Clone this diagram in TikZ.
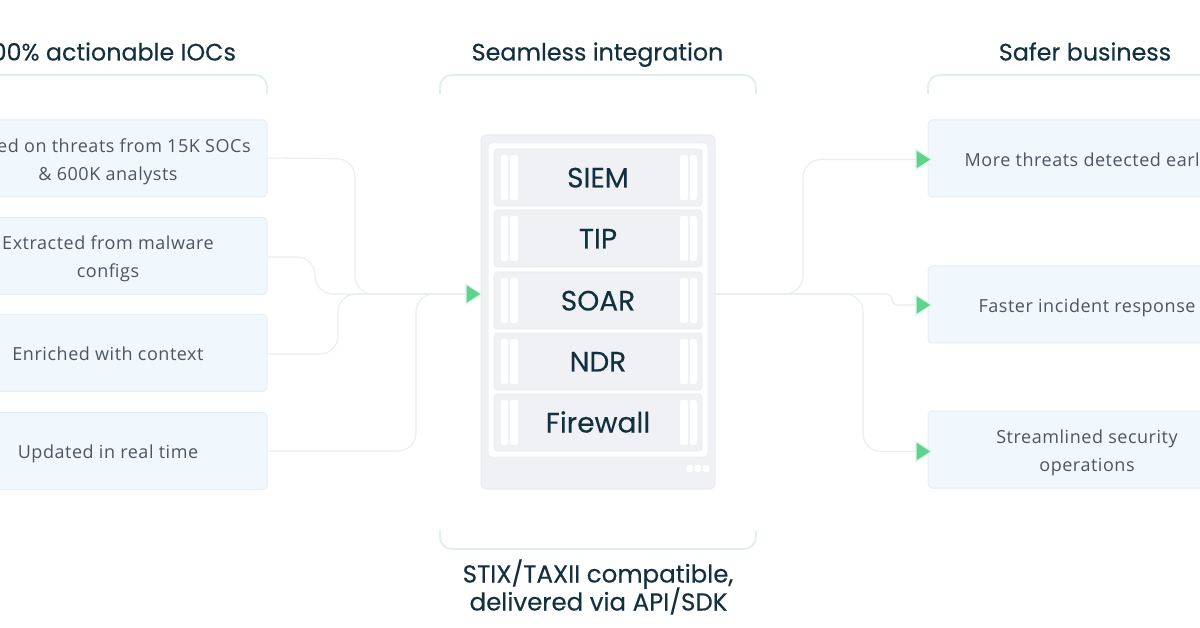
\documentclass[tikz,border=0pt]{standalone}
\usepackage{fontspec}
\setmainfont{Open Sans}[LetterSpace=3]
\newfontfamily\headfont{Poppins}[FakeBold=0.25]
\usetikzlibrary{calc}
\definecolor{inktext}{HTML}{12303F}
\definecolor{bodytext}{HTML}{4A5661}
\definecolor{boxfill}{HTML}{F0F7FD}
\definecolor{boxline}{HTML}{E4EFF6}
\definecolor{wire}{HTML}{E8EEF0}
\definecolor{bracketc}{HTML}{E2EDEE}
\definecolor{tipc}{HTML}{5FD38D}
\definecolor{tiphalo}{HTML}{DDF6E7}
\definecolor{rack}{HTML}{F0F1F4}
\definecolor{rackline}{HTML}{E9EAED}
\tikzset{
  x=1pt,y=-1pt,
  cardbox/.style={draw=boxline,line width=1pt,fill=boxfill,rounded corners=4pt,minimum width=318pt,minimum height=77pt,inner sep=0pt,align=center,text=bodytext,font=\fontsize{18}{28}\selectfont},
  conn/.style={draw=wire,line width=1.1pt,rounded corners=18pt},
  bracket/.style={draw=bracketc,line width=1.8pt,rounded corners=12pt},
  headline/.style={text=inktext,font=\headfont\fontsize{23.8}{28}\selectfont,inner sep=0pt},
  rowbox/.style={fill=rack,draw=rackline,line width=.6pt,rounded corners=3pt,minimum width=208pt,minimum height=57pt,inner sep=0pt,text=inktext,text height=20pt,text depth=0pt,font=\headfont\fontsize{28}{30}\selectfont},
  slot/.style={fill=white,rounded corners=2pt},
  tipfill/.style={fill=tipc,draw=tiphalo,line width=1.2pt},
}
\newcommand{\greentip}[1]{\filldraw[tipfill] (#1) ++(0,-10) -- ++(15.5,10) -- ++(-15.5,10) -- cycle;}
\newcommand{\rackslots}[1]{%
  \foreach \sx/\sw in {501/7,510/8,680/8,690/7}{\fill[slot] (\sx,#1+6) rectangle ++(\sw,45);}}
\newcommand{\cardtext}[1]{\raisebox{-6.5pt}[0pt][0pt]{\begin{tabular}{@{}c@{}}#1\end{tabular}}}
\begin{document}
\begin{tikzpicture}
\clip (0,0) rectangle (1200,628);
\useasboundingbox (0,0) rectangle (1200,628);
\fill[white] (0,0) rectangle (1200,628);

% headings
\node[headline,anchor=base] (h1) at (110,60.5) {100\% actionable IOCs};
\node[headline,anchor=base] (h2) at (597.5,60.5) {Seamless integration};
\node[headline,anchor=base] (h3) at (1085,60.5) {Safer business};
\draw[bracket] (-60,75) -- (267,75) -- (267,94);
\draw[bracket] (440,94) -- (440,75) -- (756,75) -- (756,94);
\draw[bracket] (928,94) -- (928,75) -- (1260,75);
\draw[bracket] (440,531) -- (440,549) -- (756,549) -- (756,531);
\node[headline,anchor=base,font=\headfont\fontsize{24.5}{28}\selectfont] (h4) at (598,582.5) {STIX/TAXII compatible,};
\node[headline,anchor=base,font=\headfont\fontsize{24.5}{28}\selectfont] (h5) at (598.5,610.5) {delivered via API/SDK};

% cards
\node[cardbox] (a1) at (108,158.5) {\cardtext{Based on threats from 15K SOCs\\\& 600K analysts}};
\node[cardbox] (a2) at (108,256) {\cardtext{Extracted from malware\\configs}};
\node[cardbox] (a3) at (108,353) {\cardtext{Enriched with context}};
\node[cardbox] (a4) at (108,451) {\cardtext{Updated in real time}};
\node[cardbox] (b1) at (1087,158.5) {\cardtext{More threats detected early}};
\node[cardbox] (b2) at (1087,304.5) {\cardtext{Faster incident response}};
\node[cardbox] (b3) at (1087,449.5) {\cardtext{Streamlined security\\operations}};

% server
\node[fill=rack,draw=rackline,line width=1pt,rounded corners=5pt,minimum width=234pt,minimum height=354pt,inner sep=0pt] (srv) at (598,312) {};
\node[fill=white,rounded corners=4pt,minimum width=219pt,minimum height=313pt,inner sep=0pt] (inner) at (598,300) {};
\node[rowbox] (r1) at (598,177.5) {SIEM};
\node[rowbox] (r2) at (598,238.5) {TIP};
\node[rowbox] (r3) at (598,300.5) {SOAR};
\node[rowbox] (r4) at (598,361.5) {NDR};
\node[rowbox] (r5) at (598,422.5) {Firewall};
\rackslots{149}\rackslots{210}\rackslots{272}\rackslots{333}\rackslots{394}
\foreach \dx in {686.5,694.5,703}{\fill[white,rounded corners=1.5pt] (\dx,465) rectangle ++(6.5,7);}

% connectors
\coordinate (inT) at (466,294);
\coordinate (outS) at (715,294);
\coordinate (t1) at (916,159.5);
\coordinate (t2) at (916,305);
\coordinate (t3) at (916,451.5);
\draw[conn] ([yshift=.5pt]a1.east) -- (355,159) -- (355,294) -- (inT);
\draw[conn] (a2.east) ++(0,1) -- (315,257) -- (315,294) -- (inT);
\draw[conn] (a3.east) ++(0,1) -- (338,354) -- (338,294) -- (inT);
\draw[conn] (a4.east) -- (416,451) -- (416,294) -- (inT);
\draw[conn] (outS) -- (803,294) -- (803,159.5) -- (t1);
\draw[conn,rounded corners=5pt] (outS) -- (892,294) -- (892,305) -- (t2);
\draw[conn] (outS) -- (863,294) -- (863,451.5) -- (t3);
\greentip{inT}\greentip{t1}\greentip{t2}\greentip{t3}
\end{tikzpicture}
\end{document}
